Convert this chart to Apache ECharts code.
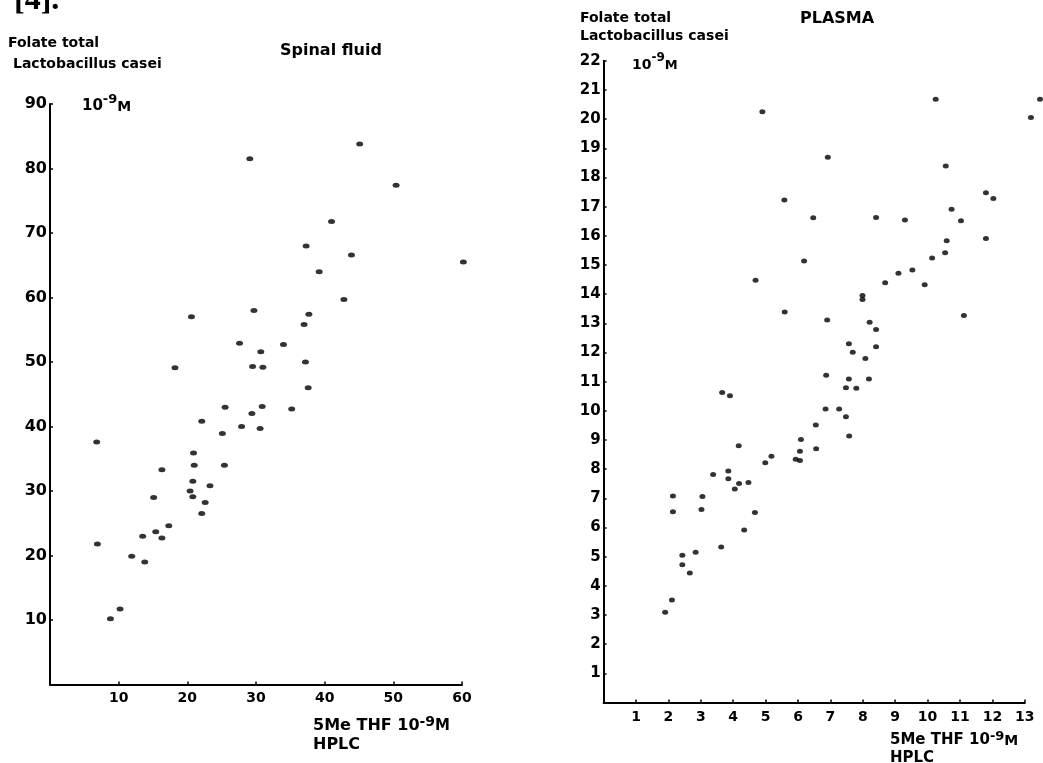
<!DOCTYPE html>
<html><head><meta charset="utf-8">
<script src="https://cdn.jsdelivr.net/npm/echarts@6/dist/echarts.min.js"></script>
<style>html,body{margin:0;padding:0;background:#fff}#c{width:1043px;height:763px}</style>
</head><body><div id="c"></div>
<script>
// Spinal fluid: x = 5Me THF (HPLC), y = Folate total (L. casei), 10^-9 M
const spinalX = [50.4, 45.1, 29.1, 41.0, 37.3, 43.9, 60.2, 39.2, 42.8, 20.6, 29.7, 37.7, 37.0, 27.6, 34.0, 30.7, 18.2, 29.5, 31.0, 37.2, 37.6, 25.5, 30.9, 35.2, 29.4, 22.1, 27.9, 30.6, 25.1, 6.8, 20.9, 21.0, 25.4, 16.3, 20.8, 23.3, 20.4, 20.8, 15.1, 22.6, 22.1, 17.3, 15.4, 13.5, 16.3, 6.9, 11.9, 13.8, 10.2, 8.8];
const spinalY = [77.4, 83.8, 81.5, 71.8, 68.0, 66.6, 65.5, 64.0, 59.7, 57.0, 58.0, 57.4, 55.8, 52.9, 52.7, 51.6, 49.1, 49.3, 49.2, 50.0, 46.0, 43.0, 43.1, 42.7, 42.0, 40.8, 40.0, 39.7, 38.9, 37.6, 35.9, 34.0, 34.0, 33.3, 31.5, 30.8, 30.0, 29.1, 29.0, 28.2, 26.5, 24.6, 23.7, 23.0, 22.7, 21.8, 19.9, 19.0, 11.7, 10.2];

// Plasma
const plasmaX = [4.90, 10.25, 13.47, 13.19, 6.92, 10.56, 11.80, 12.03, 5.58, 10.74, 6.47, 8.41, 9.30, 11.03, 11.80, 10.59, 10.54, 10.14, 6.19, 9.53, 9.10, 4.69, 8.69, 9.91, 7.99, 7.99, 5.59, 11.12, 6.90, 8.21, 8.41, 7.57, 8.41, 7.69, 8.08, 6.87, 7.57, 8.19, 7.48, 7.80, 3.66, 3.90, 6.85, 7.27, 7.48, 6.55, 7.58, 6.09, 4.17, 6.56, 6.06, 5.18, 4.99, 5.93, 6.06, 3.85, 3.38, 3.85, 4.47, 4.18, 4.05, 2.14, 3.05, 2.14, 3.02, 4.67, 4.34, 3.63, 2.84, 2.43, 2.43, 2.66, 2.11, 1.90];
const plasmaY = [20.25, 20.68, 20.68, 20.06, 18.69, 18.39, 17.48, 17.28, 17.23, 16.91, 16.62, 16.63, 16.54, 16.52, 15.91, 15.83, 15.42, 15.24, 15.14, 14.83, 14.72, 14.48, 14.39, 14.32, 13.95, 13.82, 13.39, 13.27, 13.11, 13.04, 12.79, 12.30, 12.20, 12.01, 11.79, 11.22, 11.09, 11.09, 10.79, 10.77, 10.63, 10.52, 10.06, 10.06, 9.80, 9.51, 9.14, 9.02, 8.80, 8.70, 8.61, 8.44, 8.22, 8.34, 8.30, 7.94, 7.82, 7.67, 7.54, 7.51, 7.32, 7.08, 7.06, 6.54, 6.62, 6.51, 5.91, 5.33, 5.15, 5.05, 4.72, 4.44, 3.51, 3.09];

const spinalTitle = 'Spinal fluid';
const plasmaTitle = 'PLASMA';
const yTitle1 = 'Folate total';
const yTitle2 = 'Lactobacillus casei';
const xTitle1 = '5Me THF ';
const xTitle2 = 'HPLC';

const FONT = 'DejaVu Sans';
const INK = '#000';

const zip = (xs, ys) => xs.map((x, i) => [x, ys[i]]);

function unitText(x, y, fs) {
  return {
    type: 'text', left: x, top: y,
    style: {
      text: '{n|10}{s|-9}{m|M}',
      rich: {
        n: { fontFamily: FONT, fontWeight: 'bold', fontSize: fs, fill: INK, lineHeight: fs + 6, verticalAlign: 'bottom' },
        s: { fontFamily: FONT, fontWeight: 'bold', fontSize: fs - 2, fill: INK, lineHeight: fs + 6, verticalAlign: 'top' },
        m: { fontFamily: FONT, fontWeight: 'bold', fontSize: fs - 1, fill: INK, lineHeight: fs + 6, verticalAlign: 'bottom' }
      }
    }
  };
}
function xTitleText(x, y, fs) {
  return {
    type: 'text', left: x, top: y,
    style: {
      text: '{n|' + xTitle1 + '10}{s|-9}{m|M}\n{n|' + xTitle2 + '}',
      rich: {
        n: { fontFamily: FONT, fontWeight: 'bold', fontSize: fs, fill: INK, lineHeight: fs + 3, verticalAlign: 'bottom' },
        s: { fontFamily: FONT, fontWeight: 'bold', fontSize: fs - 2, fill: INK, lineHeight: fs + 3, verticalAlign: 'top' },
        m: { fontFamily: FONT, fontWeight: 'bold', fontSize: fs - 1, fill: INK, lineHeight: fs + 3, verticalAlign: 'bottom' }
      }
    }
  };
}
function plainText(x, y, t, fs) {
  return { type: 'text', left: x, top: y, style: { text: t, fontFamily: FONT, fontWeight: 'bold', fontSize: fs, fill: INK } };
}

const axisCommon = (fs, margin) => ({
  axisLine: { show: true, onZero: false, lineStyle: { color: INK, width: 2 } },
  axisTick: { show: true, inside: true, length: 3, lineStyle: { color: INK, width: 1.5 } },
  splitLine: { show: false },
  axisLabel: { color: INK, fontFamily: FONT, fontWeight: 'bold', fontSize: fs, margin: margin,
               formatter: v => (v === 0 ? '' : String(v)) }
});

const chart = echarts.init(document.getElementById('c'), null, { renderer: 'canvas' });
chart.setOption({
  backgroundColor: '#fff',
  animation: false,
  grid: [
    { left: 50, top: 104, width: 412, height: 580.5 },
    { left: 603.6, top: 60.8, width: 421.2, height: 641.7 }
  ],
  xAxis: [
    Object.assign({ type: 'value', gridIndex: 0, min: 0, max: 60, interval: 10 }, axisCommon(14, 7)),
    Object.assign({ type: 'value', gridIndex: 1, min: 0, max: 13, interval: 1 }, axisCommon(14, 8))
  ],
  yAxis: [
    Object.assign({ type: 'value', gridIndex: 0, min: 0, max: 90, interval: 10 }, axisCommon(16, 3)),
    Object.assign({ type: 'value', gridIndex: 1, min: 0, max: 22, interval: 1 }, axisCommon(15, 3))
  ],
  series: [
    { type: 'scatter', xAxisIndex: 0, yAxisIndex: 0, data: zip(spinalX, spinalY), clip: false,
      symbol: 'circle', symbolSize: [7, 5], itemStyle: { color: INK } },
    { type: 'scatter', xAxisIndex: 1, yAxisIndex: 1, data: zip(plasmaX, plasmaY), clip: false,
      symbol: 'circle', symbolSize: [6, 5], itemStyle: { color: INK } }
  ],
  graphic: [
    { type: 'text', left: 14, top: -15, style: { text: '[4].', fontFamily: 'Liberation Serif', fontWeight: 'bold', fontSize: 32, fill: INK } },
    plainText(8, 36, yTitle1, 14),
    plainText(13, 57, yTitle2, 14),
    plainText(280, 43, spinalTitle, 16),
    unitText(82, 93, 15),
    xTitleText(313, 715, 16),
    plainText(580, 11, yTitle1, 14),
    plainText(580, 29, yTitle2, 14),
    plainText(800, 11, plasmaTitle, 16),
    unitText(632, 52, 14),
    xTitleText(890, 730, 15)
  ]
});
</script>
</body></html>
